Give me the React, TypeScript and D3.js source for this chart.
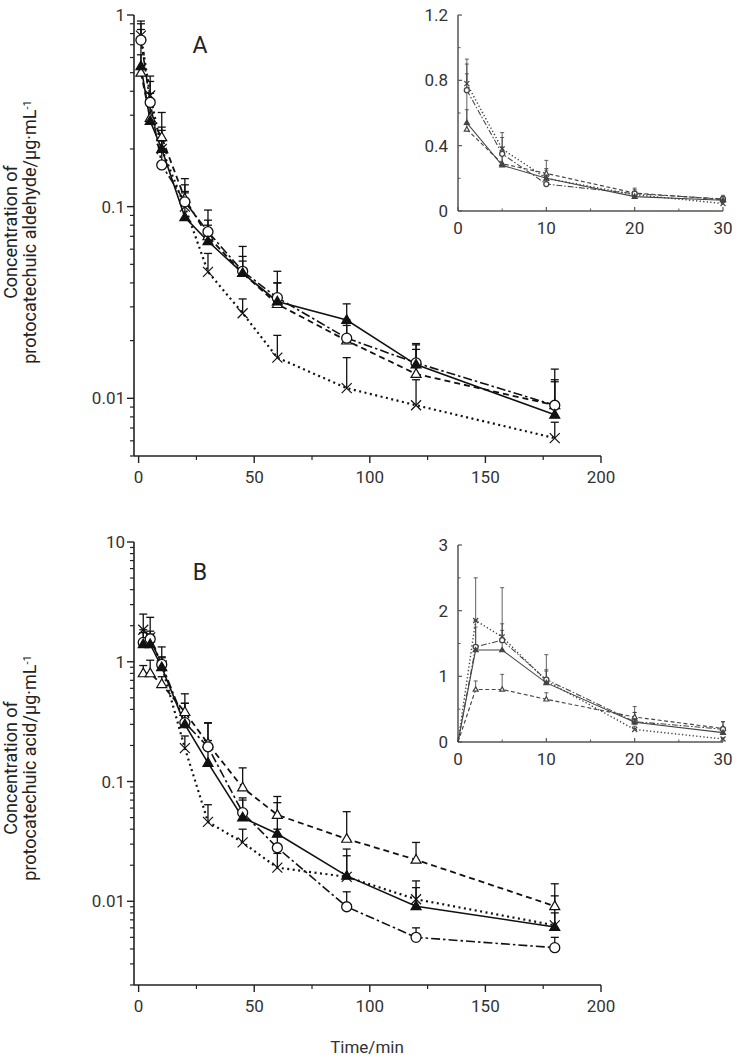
import React from "react";
import * as d3 from "d3";

// ---------------- DATA ----------------
const timesA = [1, 5, 10, 20, 30, 45, 60, 90, 120, 180];
// Panel A: protocatechuic aldehyde
const aFilledTri = [0.54, 0.28, 0.2, 0.088, 0.066, 0.045, 0.032, 0.0256, 0.015, 0.0082];
const aFilledTriSD = [0.3, 0.11, 0.06, 0.03, 0.019, 0.01, 0.008, 0.0055, 0.004, 0.004];
const aOpenCircle = [0.74, 0.35, 0.165, 0.106, 0.074, 0.046, 0.0335, 0.0206, 0.0153, 0.0092];
const aOpenCircleSD = [0.19, 0.13, 0.055, 0.034, 0.022, 0.016, 0.0125, 0.005, 0.004, 0.005];
const aOpenTri = [0.5, 0.29, 0.23, 0.11, 0.07, 0.045, 0.031, 0.02, 0.0134, 0.0092];
const aOpenTriSD = [0.12, 0.07, 0.08, 0.02, 0.01, 0.007, 0.009, 0.004, 0.0046, 0.0033];
const aCross = [0.78, 0.38, 0.2, 0.1, 0.0457, 0.0278, 0.0163, 0.0113, 0.0092, 0.0062];
const aCrossSD = [0.12, 0.07, 0.05, 0.02, 0.0113, 0.0052, 0.005, 0.005, 0.0033, 0.0013];

const timesB = [0, 2, 5, 10, 20, 30, 45, 60, 90, 120, 180];
// Panel B: protocatechuic acid
const bFilledTri = [0, 1.4, 1.4, 0.9, 0.3, 0.143, 0.05, 0.0366, 0.0163, 0.0091, 0.0061];
const bFilledTriSD = [0, 0.35, 0.3, 0.2, 0.15, 0.077, 0.02, 0.03, 0.011, 0.0057, 0.005];
const bOpenCircle = [0, 1.45, 1.55, 0.95, 0.31, 0.195, 0.055, 0.028, 0.009, 0.005, 0.0041];
const bOpenCircleSD = [0, 0.4, 0.8, 0.38, 0.14, 0.115, 0.018, 0.012, 0.003, 0.001, 0.0009];
const bOpenTri = [0, 0.8, 0.8, 0.65, 0.38, 0.207, 0.089, 0.0526, 0.0332, 0.0222, 0.0091];
const bOpenTriSD = [0, 0.13, 0.23, 0.1, 0.16, 0.1, 0.041, 0.0224, 0.0228, 0.0088, 0.0049];
const bCross = [0, 1.85, 1.6, 0.93, 0.19, 0.046, 0.031, 0.0191, 0.016, 0.0104, 0.0063];
const bCrossSD = [0, 0.65, 0.2, 0.15, 0.05, 0.018, 0.009, 0.006, 0.008, 0.0026, 0.0017];

// Tick values / labels
const xMainTicks = [0, 50, 100, 150, 200];
const xMainMinor = [25, 75, 125, 175];
const yTicksA = [0.01, 0.1, 1];
const yTickLabelsA = ["0.01", "0.1", "1"];
const yTicksB = [0.01, 0.1, 1, 10];
const yTickLabelsB = ["0.01", "0.1", "1", "10"];
const xInsetTicks = [0, 10, 20, 30];
const xInsetMinor = [5, 15, 25];
const yInsetTicksA = [0, 0.4, 0.8, 1.2];
const yInsetTickLabelsA = ["0", "0.4", "0.8", "1.2"];
const yInsetMinorA = [0.2, 0.6, 1.0];
const yInsetTicksB = [0, 1, 2, 3];
const yInsetTickLabelsB = ["0", "1", "2", "3"];
const yInsetMinorB = [0.5, 1.5, 2.5];
const insetMaxTime = 30;

// ---------------- STYLES ----------------
type Marker = "filledTri" | "openTri" | "circle" | "cross";
type SeriesStyle = { marker: Marker; dash: string; width: number };
const styleFilledTri: SeriesStyle = { marker: "filledTri", dash: "none", width: 1.6 };
const styleCircle: SeriesStyle = { marker: "circle", dash: "9,3,2.5,3", width: 1.6 };
const styleOpenTri: SeriesStyle = { marker: "openTri", dash: "6,4", width: 1.8 };
const styleCross: SeriesStyle = { marker: "cross", dash: "2,3.5", width: 2.2 };

const FONT = "Roboto, 'Liberation Sans', Arial, sans-serif";

type Series = { values: number[]; sd: number[]; style: SeriesStyle };
const seriesA: Series[] = [
  { values: aCross, sd: aCrossSD, style: styleCross },
  { values: aOpenTri, sd: aOpenTriSD, style: styleOpenTri },
  { values: aOpenCircle, sd: aOpenCircleSD, style: styleCircle },
  { values: aFilledTri, sd: aFilledTriSD, style: styleFilledTri },
];
const seriesB: Series[] = [
  { values: bCross, sd: bCrossSD, style: styleCross },
  { values: bOpenTri, sd: bOpenTriSD, style: styleOpenTri },
  { values: bOpenCircle, sd: bOpenCircleSD, style: styleCircle },
  { values: bFilledTri, sd: bFilledTriSD, style: styleFilledTri },
];

function MarkerShape({ m, x, y, s, color }: { m: Marker; x: number; y: number; s: number; color: string }) {
  if (m === "circle") return <circle cx={x} cy={y} r={s * 0.5} fill="#fff" stroke={color} strokeWidth={1.3} />;
  if (m === "cross") {
    const h = s * 0.5;
    return (
      <path d={`M${x - h},${y - h}L${x + h},${y + h}M${x - h},${y + h}L${x + h},${y - h}`} stroke={color} strokeWidth={1.2} fill="none" />
    );
  }
  const area = (Math.sqrt(3) / 4) * s * s;
  const p = d3.symbol().type(d3.symbolTriangle).size(area)() as string;
  return (
    <path
      d={p}
      transform={`translate(${x},${y + s * 0.05})`}
      fill={m === "filledTri" ? color : "#fff"}
      stroke={color}
      strokeWidth={1.2}
    />
  );
}

function PlotSeries({
  series, times, xs, ys, markerSize, color, lineScale, capW, positiveOnly, maxT,
}: {
  series: Series[]; times: number[]; xs: any; ys: any; markerSize: number; color: string;
  lineScale: number; capW: number; positiveOnly: boolean; maxT: number;
}) {
  const pointsOf = (s: Series) =>
    times
      .map((t, i) => ({ t, v: s.values[i], sd: s.sd[i] }))
      .filter((p) => p.t <= maxT && (!positiveOnly || p.v > 0));
  return (
    <g>
      {series.map((s, si) => {
        const pts = pointsOf(s);
        const line = d3.line<any>().x((p) => xs(p.t)).y((p) => ys(p.v));
        return (
          <path key={"l" + si} d={line(pts) as string} fill="none" stroke={color}
            strokeWidth={s.style.width * lineScale}
            strokeDasharray={s.style.dash === "none" ? undefined : s.style.dash
              .split(",").map((d) => +d * lineScale).join(",")} />
        );
      })}
      {series.map((s, si) => {
        const pts = pointsOf(s).filter((p) => p.v > 0 && p.sd > 0);
        return (
          <g key={"e" + si}>
            {pts.map((p, i) => {
              const x = xs(p.t);
              const y0 = ys(p.v);
              const y1 = ys(p.v + p.sd);
              return (
                <g key={i}>
                  <line x1={x} x2={x} y1={y0} y2={y1} stroke={color} strokeWidth={1.3 * lineScale} />
                  <line x1={x - capW / 2} x2={x + capW / 2} y1={y1} y2={y1} stroke={color} strokeWidth={1.3 * lineScale} />
                </g>
              );
            })}
          </g>
        );
      })}
      {series.map((s, si) => {
        const pts = pointsOf(s).filter((p) => p.v > 0);
        return (
          <g key={"m" + si}>
            {pts.map((p, i) => (
              <MarkerShape key={i} m={s.style.marker} x={xs(p.t)} y={ys(p.v)} s={markerSize} color={color} />
            ))}
          </g>
        );
      })}
    </g>
  );
}

function MainPanel({
  yDomain, yRange, series, times, yTicks, yTickLabels, letter, titleLine2, titleCenter,
}: {
  yDomain: [number, number]; yRange: [number, number]; series: Series[]; times: number[];
  yTicks: number[]; yTickLabels: string[]; letter: string; titleLine2: string; titleCenter: number;
}) {
  const xLeft = 134, xRight = 601;
  const x = d3.scaleLinear().domain([-2, 200]).range([xLeft, xRight]);
  const y = d3.scaleLog().domain(yDomain).range(yRange);
  const yBottom = yRange[0], yTop = yRange[1];
  const minor = y.ticks().filter((v) => !yTicks.some((t) => Math.abs(t - v) / t < 1e-6));
  return (
    <g fontFamily={FONT}>
      <line x1={xLeft} x2={xLeft} y1={yTop} y2={yBottom} stroke="#222" strokeWidth={1.6} />
      <line x1={xLeft} x2={xRight} y1={yBottom} y2={yBottom} stroke="#222" strokeWidth={1.6} />
      {yTicks.map((t, i) => (
        <g key={"yt" + i}>
          <line x1={xLeft - 7} x2={xLeft} y1={y(t)} y2={y(t)} stroke="#222" strokeWidth={1.4} />
          <text x={xLeft - 9} y={y(t)} dy="0.36em" textAnchor="end" fontSize={17} fill="#333">{yTickLabels[i]}</text>
        </g>
      ))}
      {minor.map((t, i) => (
        <line key={"ym" + i} x1={xLeft - 4} x2={xLeft} y1={y(t)} y2={y(t)} stroke="#222" strokeWidth={1.2} />
      ))}
      {xMainTicks.map((t, i) => (
        <g key={"xt" + i}>
          <line x1={x(t)} x2={x(t)} y1={yBottom} y2={yBottom + 7} stroke="#222" strokeWidth={1.4} />
          <text x={x(t)} y={yBottom + 27} textAnchor="middle" fontSize={17} fill="#333">{t}</text>
        </g>
      ))}
      {xMainMinor.map((t, i) => (
        <line key={"xm" + i} x1={x(t)} x2={x(t)} y1={yBottom} y2={yBottom + 4} stroke="#222" strokeWidth={1.2} />
      ))}
      <text x={200} y={yTop + 38} textAnchor="middle" fontSize={23} fill="#222">{letter}</text>
      <text transform={`translate(17,${titleCenter}) rotate(-90)`} textAnchor="middle" fontSize={18} fill="#222">
        Concentration of
      </text>
      <text transform={`translate(36,${titleCenter}) rotate(-90)`} textAnchor="middle" fontSize={18} fill="#222">
        {titleLine2}
        <tspan dy="-0.5em" fontSize={11}>-1</tspan>
      </text>
      <PlotSeries series={series} times={times} xs={x} ys={y} markerSize={10} color="#111"
        lineScale={1} capW={8} positiveOnly={true} maxT={200} />
    </g>
  );
}

function Inset({
  yMax, yTop, yBottom, yTicks, yTickLabels, yMinor, series, times,
}: {
  yMax: number; yTop: number; yBottom: number; yTicks: number[]; yTickLabels: string[]; yMinor: number[];
  series: Series[]; times: number[];
}) {
  const xL = 458, xR = 723;
  const x = d3.scaleLinear().domain([0, insetMaxTime]).range([xL, xR]);
  const y = d3.scaleLinear().domain([0, yMax]).range([yBottom, yTop]);
  const ax = "#555";
  return (
    <g fontFamily={FONT}>
      <line x1={xL} x2={xL} y1={yTop} y2={yBottom} stroke={ax} strokeWidth={1.5} />
      <line x1={xL} x2={xR} y1={yBottom} y2={yBottom} stroke={ax} strokeWidth={1.5} />
      {yTicks.map((t, i) => (
        <g key={"yt" + i}>
          <line x1={xL} x2={xL + 4} y1={y(t)} y2={y(t)} stroke={ax} strokeWidth={1.2} />
          <text x={xL - 10} y={y(t)} dy="0.36em" textAnchor="end" fontSize={17} fill="#333">{yTickLabels[i]}</text>
        </g>
      ))}
      {yMinor.map((t, i) => (
        <line key={"ym" + i} x1={xL} x2={xL + 2.5} y1={y(t)} y2={y(t)} stroke={ax} strokeWidth={1} />
      ))}
      {xInsetTicks.map((t, i) => (
        <g key={"xt" + i}>
          <line x1={x(t)} x2={x(t)} y1={yBottom} y2={yBottom - 4} stroke={ax} strokeWidth={1.2} />
          <text x={x(t)} y={yBottom + 23} textAnchor="middle" fontSize={17} fill="#333">{t}</text>
        </g>
      ))}
      {xInsetMinor.map((t, i) => (
        <line key={"xm" + i} x1={x(t)} x2={x(t)} y1={yBottom} y2={yBottom - 2.5} stroke={ax} strokeWidth={1} />
      ))}
      <PlotSeries series={series} times={times} xs={x} ys={y} markerSize={5} color="#444"
        lineScale={0.65} capW={4} positiveOnly={false} maxT={insetMaxTime} />
    </g>
  );
}

export default function App() {
  return (
    <svg width={750} height={1063} style={{ position: "absolute", left: 0, top: 0, background: "#fff" }}>
      <rect width={750} height={1063} fill="#fff" />
      <MainPanel yDomain={[0.005, 1]} yRange={[456, 15]} series={seriesA} times={timesA}
        yTicks={yTicksA} yTickLabels={yTickLabelsA} letter="A"
        titleLine2="protocatechuic aldehyde/μg·mL" titleCenter={232} />
      <Inset yMax={1.2} yTop={15} yBottom={211} yTicks={yInsetTicksA} yTickLabels={yInsetTickLabelsA}
        yMinor={yInsetMinorA} series={seriesA} times={timesA} />
      <MainPanel yDomain={[0.002, 10]} yRange={[985, 542]} series={seriesB} times={timesB}
        yTicks={yTicksB} yTickLabels={yTickLabelsB} letter="B"
        titleLine2="protocatechuic acid/μg·mL" titleCenter={768} />
      <Inset yMax={3} yTop={545} yBottom={742} yTicks={yInsetTicksB} yTickLabels={yInsetTickLabelsB}
        yMinor={yInsetMinorB} series={seriesB} times={timesB} />
      <text x={367} y={1053} textAnchor="middle" fontSize={17} fill="#333" fontFamily={FONT}>Time/min</text>
    </svg>
  );
}
